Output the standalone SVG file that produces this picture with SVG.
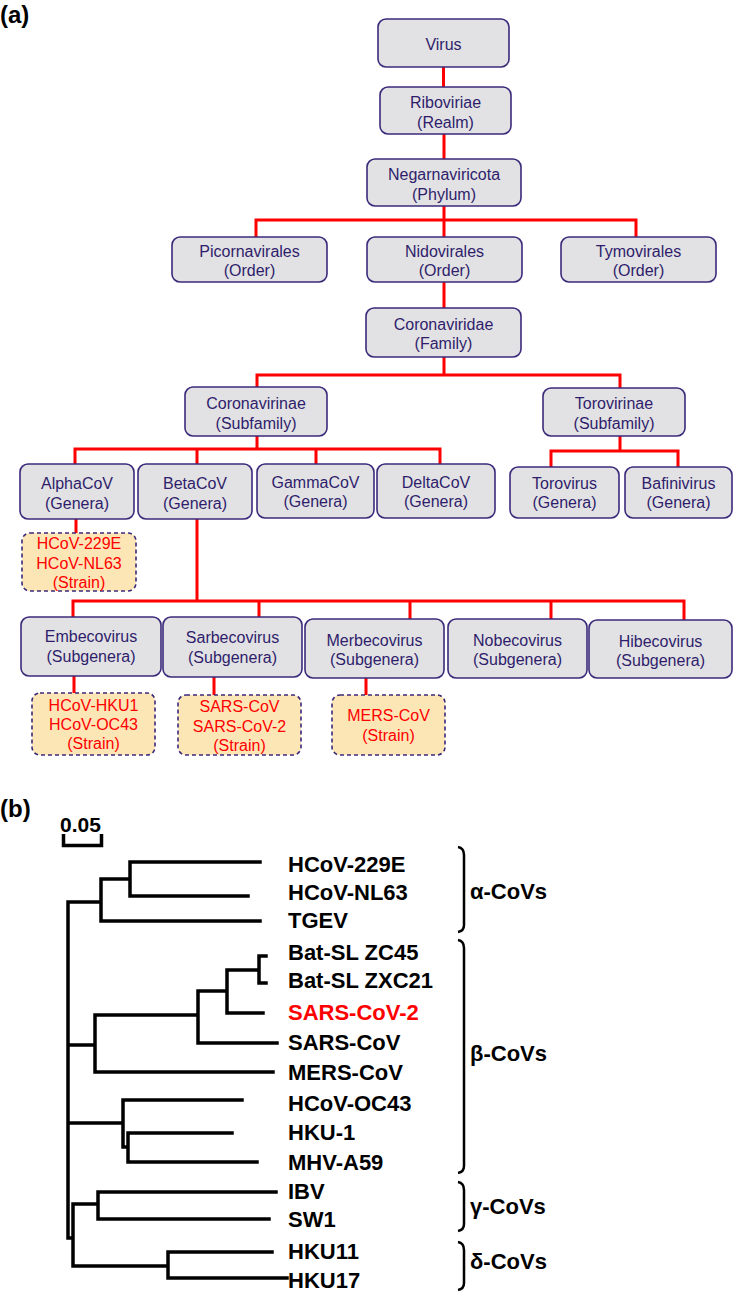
<svg xmlns="http://www.w3.org/2000/svg" width="734" height="1293" viewBox="0 0 734 1293">
<style>
.box{fill:#e2e2e4;stroke:#3b2a7a;stroke-width:1.6}
.strain{fill:#fde6b6;stroke:#3b2a7a;stroke-width:1.6;stroke-dasharray:4 3}
.t{font-family:"Liberation Sans",Arial,sans-serif;font-size:16px;fill:#2f1d6b;text-anchor:middle}
.st{font-family:"Liberation Sans",Arial,sans-serif;font-size:16px;fill:#ff0000;text-anchor:middle}
.red{fill:none;stroke:#ff0000;stroke-width:3}
.tree{fill:none;stroke:#000;stroke-width:3.5;stroke-linecap:square;stroke-linejoin:miter}
.br{fill:none;stroke:#000;stroke-width:2.5}
.lab{font-family:"Liberation Sans",Arial,sans-serif;font-size:22px;font-weight:bold;fill:#000}
.panel{font-family:"Liberation Sans",Arial,sans-serif;font-size:24px;font-weight:bold;fill:#000}
</style>
<rect width="734" height="1293" fill="#fff"/>
<text class="panel" x="0" y="23">(a)</text>
<text class="panel" x="0" y="817">(b)</text>

<g id="connectors">
<path class="red" d="M443.5,67 V87 M444,134 V159 M444,206 V237 M256,237 V220 H636 V237 M444,282 V308 M444,357 V375 M257,387 V375 H620 V388 M257,436 V449 M75,464 V449 H440 V464 M197,449 V464 M316,449 V464 M620,436 V451 M551,467 V451 H678 V467 M76,519 V533 M197,519 V601 M73,617 V601 H684 V620 M259,601 V617 M410,601 V619 M551,601 V619 M74,676 V693 M214,677 V695 M366,678 V695"/>
</g>

<g id="virus"><rect class="box" x="378" y="19" width="131" height="48" rx="8"/><text class="t" x="443.5" y="49.5">Virus</text></g>
<g id="riboviriae"><rect class="box" x="380" y="87" width="131" height="47" rx="8"/><text class="t" x="445.5" y="108">Riboviriae</text><text class="t" x="445.5" y="128">(Realm)</text></g>
<g id="negarnaviricota"><rect class="box" x="367" y="159" width="154" height="47" rx="8"/><text class="t" x="444" y="180">Negarnaviricota</text><text class="t" x="444" y="200">(Phylum)</text></g>
<g id="picornavirales"><rect class="box" x="172" y="237" width="155" height="45" rx="8"/><text class="t" x="249.5" y="257">Picornavirales</text><text class="t" x="249.5" y="276">(Order)</text></g>
<g id="nidovirales"><rect class="box" x="367" y="237" width="155" height="45" rx="8"/><text class="t" x="444.5" y="257">Nidovirales</text><text class="t" x="444.5" y="276">(Order)</text></g>
<g id="tymovirales"><rect class="box" x="561" y="237" width="155" height="45" rx="8"/><text class="t" x="638.5" y="257">Tymovirales</text><text class="t" x="638.5" y="276">(Order)</text></g>
<g id="coronaviridae"><rect class="box" x="366" y="308" width="155" height="49" rx="8"/><text class="t" x="443.5" y="330">Coronaviridae</text><text class="t" x="443.5" y="349">(Family)</text></g>
<g id="coronavirinae"><rect class="box" x="185" y="387" width="142" height="49" rx="8"/><text class="t" x="256" y="409">Coronavirinae</text><text class="t" x="256" y="429">(Subfamily)</text></g>
<g id="torovirinae"><rect class="box" x="543" y="388" width="142" height="48" rx="8"/><text class="t" x="614" y="409">Torovirinae</text><text class="t" x="614" y="429">(Subfamily)</text></g>
<g id="alphacov"><rect class="box" x="20" y="464" width="114" height="55" rx="8"/><text class="t" x="77" y="489">AlphaCoV</text><text class="t" x="77" y="509">(Genera)</text></g>
<g id="betacov"><rect class="box" x="138" y="464" width="114" height="55" rx="8"/><text class="t" x="195" y="489">BetaCoV</text><text class="t" x="195" y="509">(Genera)</text></g>
<g id="gammacov"><rect class="box" x="257" y="464" width="117" height="54" rx="8"/><text class="t" x="315.5" y="488">GammaCoV</text><text class="t" x="315.5" y="507">(Genera)</text></g>
<g id="deltacov"><rect class="box" x="377" y="464" width="118" height="54" rx="8"/><text class="t" x="436" y="488">DeltaCoV</text><text class="t" x="436" y="507">(Genera)</text></g>
<g id="torovirus"><rect class="box" x="510" y="467" width="109" height="51" rx="8"/><text class="t" x="564.5" y="489">Torovirus</text><text class="t" x="564.5" y="508">(Genera)</text></g>
<g id="bafinivirus"><rect class="box" x="625" y="467" width="107" height="51" rx="8"/><text class="t" x="678.5" y="489">Bafinivirus</text><text class="t" x="678.5" y="508">(Genera)</text></g>
<g id="alpha-strain"><rect class="strain" x="22" y="533" width="114" height="58" rx="8"/><text class="st" x="79" y="549">HCoV-229E</text><text class="st" x="79" y="569">HCoV-NL63</text><text class="st" x="79" y="588">(Strain)</text></g>
<g id="embecovirus"><rect class="box" x="21" y="617" width="140" height="59" rx="8"/><text class="t" x="91" y="642">Embecovirus</text><text class="t" x="91" y="662">(Subgenera)</text></g>
<g id="sarbecovirus"><rect class="box" x="163" y="617" width="139" height="60" rx="8"/><text class="t" x="232.5" y="643">Sarbecovirus</text><text class="t" x="232.5" y="663">(Subgenera)</text></g>
<g id="merbecovirus"><rect class="box" x="305" y="619" width="139" height="59" rx="8"/><text class="t" x="374.5" y="646">Merbecovirus</text><text class="t" x="374.5" y="665">(Subgenera)</text></g>
<g id="nobecovirus"><rect class="box" x="448" y="619" width="139" height="59" rx="8"/><text class="t" x="517.5" y="646">Nobecovirus</text><text class="t" x="517.5" y="665">(Subgenera)</text></g>
<g id="hibecovirus"><rect class="box" x="589" y="620" width="143" height="58" rx="8"/><text class="t" x="660.5" y="647">Hibecovirus</text><text class="t" x="660.5" y="666">(Subgenera)</text></g>
<g id="embeco-strain"><rect class="strain" x="32" y="693" width="123" height="62" rx="8"/><text class="st" x="93.5" y="711">HCoV-HKU1</text><text class="st" x="93.5" y="730">HCoV-OC43</text><text class="st" x="93.5" y="749">(Strain)</text></g>
<g id="sarbeco-strain"><rect class="strain" x="178" y="695" width="123" height="60" rx="8"/><text class="st" x="239.5" y="712">SARS-CoV</text><text class="st" x="239.5" y="732">SARS-CoV-2</text><text class="st" x="239.5" y="751">(Strain)</text></g>
<g id="merbeco-strain"><rect class="strain" x="332" y="695" width="113" height="60" rx="8"/><text class="st" x="388.5" y="721">MERS-CoV</text><text class="st" x="388.5" y="741">(Strain)</text></g>

<g id="scale">
<text class="lab" x="60" y="832" style="font-size:21px">0.05</text>
<path class="tree" style="stroke-linecap:butt" d="M63.5,834 V845.5 H101.5 V834"/>
</g>

<g id="tree">
<path class="tree" d="M260,862 H130 V896 H248 M130,879 H101 V921 H260 M101,902 H68 V1238 H73 M266,956 H259 V983 H266 M259,970 H227 V1013 H263 M227,991 H198 V1043 H277 M198,1015 H95 V1072 H273 M95,1045 H68 M242,1100 H123 V1147 H128 M68,1123 H123 M232,1133 H128 V1162 H257 M276,1192 H98 V1219 H269 M98,1204 H73 V1266 H168 M272,1252 H168 V1278 H287"/>
</g>

<g id="leaves">
<text class="lab" x="288" y="872">HCoV-229E</text>
<text class="lab" x="288" y="900">HCoV-NL63</text>
<text class="lab" x="288" y="928">TGEV</text>
<text class="lab" x="288" y="960">Bat-SL ZC45</text>
<text class="lab" x="288" y="988">Bat-SL ZXC21</text>
<text class="lab" x="288" y="1020" style="fill:#ff0000">SARS-CoV-2</text>
<text class="lab" x="288" y="1050">SARS-CoV</text>
<text class="lab" x="288" y="1080">MERS-CoV</text>
<text class="lab" x="288" y="1111">HCoV-OC43</text>
<text class="lab" x="288" y="1140">HKU-1</text>
<text class="lab" x="288" y="1170">MHV-A59</text>
<text class="lab" x="288" y="1199">IBV</text>
<text class="lab" x="288" y="1227">SW1</text>
<text class="lab" x="288" y="1259">HKU11</text>
<text class="lab" x="288" y="1288">HKU17</text>
</g>

<g id="groups">
<path class="br" d="M458,847 Q464,848 464,855 V925 Q464,931 458,932"/>
<path class="br" d="M458,940 Q464,941 464,948 V1166 Q464,1172 458,1173"/>
<path class="br" d="M458,1182 Q464,1183 464,1190 V1224 Q464,1230 458,1231"/>
<path class="br" d="M458,1242 Q464,1243 464,1250 V1283 Q464,1289 458,1290"/>
<text class="lab" x="470" y="899">α-CoVs</text>
<text class="lab" x="470" y="1061">β-CoVs</text>
<text class="lab" x="470" y="1214">γ-CoVs</text>
<text class="lab" x="470" y="1269">δ-CoVs</text>
</g>
</svg>
